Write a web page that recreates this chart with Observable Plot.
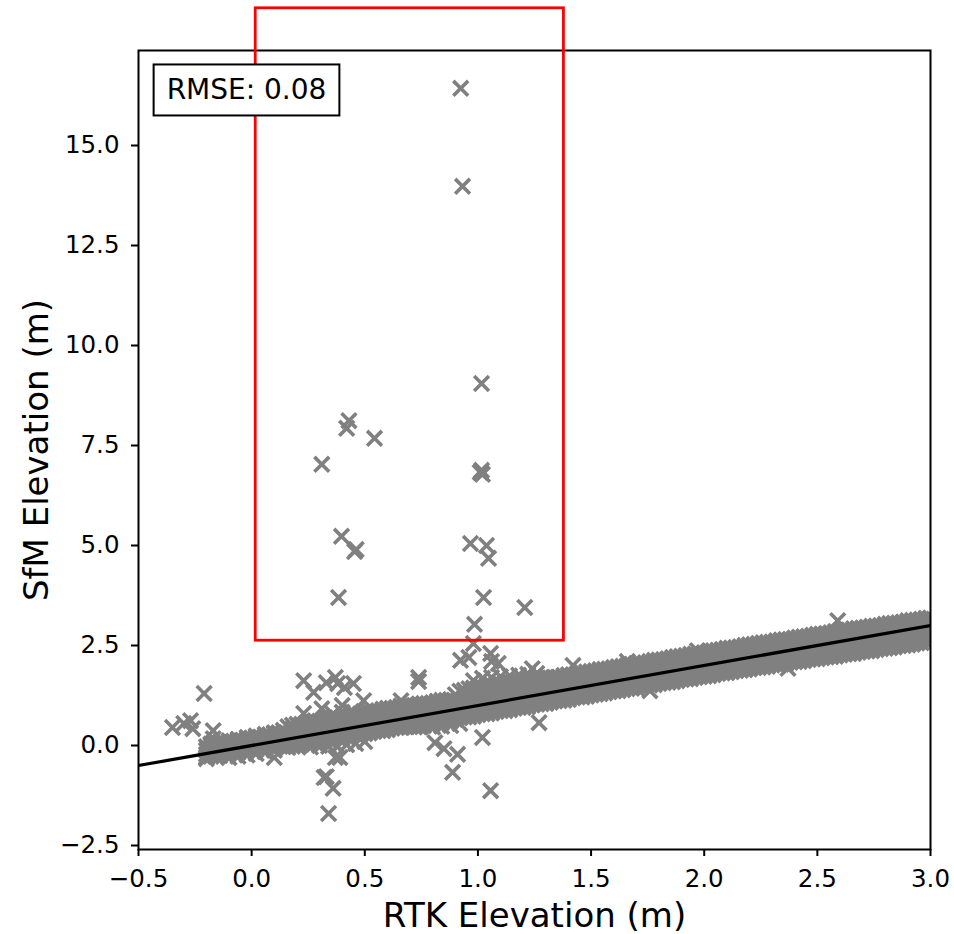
<!DOCTYPE html>
<html><head><meta charset="utf-8">
<script src="https://cdn.jsdelivr.net/npm/d3@7"></script>
<script src="https://cdn.jsdelivr.net/npm/@observablehq/plot@0.6"></script>
<style>body{margin:0;background:#fff} svg{display:block}</style>
</head><body><div id="chart"></div>
<script>
// ---- Data ----
const xLabel = "RTK Elevation (m)";
const yLabel = "SfM Elevation (m)";
const rmseText = "RMSE: 0.08";
const xTicks = [-0.5, 0, 0.5, 1, 1.5, 2, 2.5, 3];
const yTicks = [-2.5, 0, 2.5, 5, 7.5, 10, 12.5, 15];
const xDomain = [-0.5, 3.0];
const yDomain = [-2.6, 17.375];

// dense band of matched points, set A (RTK elevation columns, four SfM rows each)
const bandX = [-0.20,-0.16,-0.12,-0.08,-0.04,0.00,0.04,0.08,0.12,0.16,0.20,0.24,0.28,0.32,0.36,0.40,0.44,0.48,0.52,0.56,0.60,0.64,0.68,0.72,0.76,0.80,0.84,0.88,0.92,0.96,1.00,1.04,1.08,1.12,1.16,1.20,1.24,1.28,1.32,1.36,1.40,1.44,1.48,1.52,1.56,1.60,1.64,1.68,1.72,1.76,1.80,1.84,1.88,1.92,1.96,2.00,2.04,2.08,2.12,2.16,2.20,2.24,2.28,2.32,2.36,2.40,2.44,2.48,2.52,2.56,2.60,2.64,2.68,2.72,2.76,2.80,2.84,2.88,2.92,2.96,3.00];
const bandTop = [-0.03,0.03,0.05,0.11,0.13,0.19,0.21,0.27,0.32,0.47,0.53,0.55,0.62,0.63,0.69,0.71,0.77,0.79,0.85,0.87,0.93,0.95,1.01,1.00,1.05,1.07,1.13,1.15,1.36,1.42,1.44,1.50,1.52,1.58,1.60,1.66,1.68,1.70,1.69,1.71,1.77,1.79,1.84,1.87,1.91,1.95,1.98,2.03,2.06,2.10,2.14,2.17,2.22,2.25,2.29,2.32,2.37,2.40,2.44,2.47,2.52,2.55,2.58,2.62,2.65,2.69,2.72,2.76,2.79,2.82,2.86,2.89,2.93,2.96,2.99,3.03,3.06,3.09,3.13,3.16,3.19];
const bandMid1 = [-0.12,-0.09,-0.03,0.01,0.05,0.07,0.13,0.15,0.19,0.30,0.36,0.38,0.42,0.48,0.50,0.56,0.58,0.64,0.66,0.72,0.74,0.80,0.82,0.83,0.85,0.91,0.93,0.99,1.13,1.15,1.21,1.23,1.29,1.31,1.37,1.39,1.45,1.46,1.44,1.49,1.51,1.57,1.59,1.64,1.67,1.72,1.75,1.80,1.83,1.87,1.91,1.95,1.98,2.03,2.06,2.10,2.13,2.18,2.21,2.25,2.28,2.32,2.36,2.39,2.43,2.46,2.50,2.53,2.57,2.60,2.64,2.67,2.70,2.74,2.77,2.80,2.84,2.87,2.90,2.94,2.97];
const bandMid2 = [-0.22,-0.17,-0.15,-0.09,-0.07,-0.02,0.01,0.07,0.09,0.14,0.16,0.22,0.24,0.30,0.32,0.37,0.42,0.44,0.50,0.52,0.58,0.60,0.66,0.63,0.69,0.71,0.77,0.79,0.90,0.95,0.97,1.03,1.05,1.11,1.13,1.19,1.21,1.25,1.22,1.25,1.31,1.33,1.38,1.41,1.46,1.49,1.54,1.57,1.61,1.65,1.69,1.72,1.77,1.80,1.84,1.88,1.92,1.95,1.99,2.03,2.07,2.10,2.14,2.17,2.21,2.25,2.28,2.32,2.35,2.39,2.42,2.46,2.49,2.53,2.56,2.60,2.63,2.67,2.70,2.73,2.77];
const bandLow = [-0.29,-0.27,-0.21,-0.19,-0.13,-0.11,-0.07,-0.03,0.01,-0.05,-0.01,0.05,0.07,0.11,0.17,0.19,0.24,0.28,0.31,0.37,0.39,0.45,0.47,0.46,0.50,0.54,0.58,0.62,0.69,0.71,0.77,0.79,0.85,0.87,0.93,0.95,1.01,1.04,1.08,1.12,1.15,1.21,1.23,1.28,1.31,1.36,1.39,1.43,1.47,1.51,1.55,1.58,1.62,1.66,1.70,1.73,1.77,1.81,1.84,1.88,1.91,1.95,1.98,2.02,2.05,2.09,2.12,2.16,2.19,2.22,2.26,2.29,2.33,2.36,2.40,2.43,2.46,2.50,2.53,2.57,2.60];

// dense band, set B (staggered columns, seven SfM rows each)
const bandXB = [-0.18,-0.14,-0.10,-0.06,-0.02,0.02,0.06,0.10,0.14,0.18,0.22,0.26,0.30,0.34,0.38,0.42,0.46,0.50,0.54,0.58,0.62,0.66,0.70,0.74,0.78,0.82,0.86,0.90,0.94,0.98,1.02,1.06,1.10,1.14,1.18,1.22,1.26,1.30,1.34,1.38,1.42,1.46,1.50,1.54,1.58,1.62,1.66,1.70,1.74,1.78,1.82,1.86,1.90,1.94,1.98,2.02,2.06,2.10,2.14,2.18,2.22,2.26,2.30,2.34,2.38,2.42,2.46,2.50,2.54,2.58,2.62,2.66,2.70,2.74,2.78,2.82,2.86,2.90,2.94,2.98];
const bandBTop = [0.01,0.05,0.07,0.13,0.15,0.21,0.23,0.30,0.38,0.51,0.53,0.59,0.61,0.67,0.69,0.75,0.77,0.83,0.85,0.91,0.93,0.99,1.00,1.04,1.05,1.11,1.13,1.27,1.38,1.44,1.46,1.52,1.54,1.60,1.62,1.68,1.68,1.71,1.70,1.75,1.77,1.82,1.85,1.90,1.92,1.97,2.00,2.05,2.07,2.13,2.15,2.20,2.23,2.28,2.30,2.35,2.38,2.43,2.45,2.50,2.53,2.57,2.59,2.64,2.66,2.71,2.73,2.78,2.80,2.85,2.87,2.92,2.94,2.98,3.00,3.05,3.07,3.12,3.14,3.18];
const bandB1 = [-0.06,-0.02,0.03,0.08,0.11,0.15,0.19,0.24,0.30,0.41,0.46,0.49,0.53,0.58,0.61,0.66,0.69,0.74,0.77,0.82,0.85,0.90,0.92,0.94,0.96,1.01,1.04,1.11,1.26,1.31,1.34,1.39,1.42,1.47,1.50,1.55,1.58,1.59,1.58,1.62,1.65,1.69,1.72,1.77,1.80,1.85,1.87,1.92,1.95,2.00,2.03,2.08,2.10,2.15,2.18,2.23,2.26,2.30,2.33,2.38,2.41,2.45,2.48,2.53,2.55,2.60,2.63,2.67,2.70,2.74,2.77,2.81,2.84,2.88,2.91,2.95,2.98,3.02,3.04,3.09];
const bandBMid1 = [-0.10,-0.07,-0.01,0.04,0.05,0.11,0.13,0.18,0.24,0.34,0.36,0.41,0.44,0.50,0.52,0.58,0.60,0.66,0.68,0.74,0.76,0.82,0.82,0.85,0.87,0.93,0.95,1.07,1.13,1.19,1.21,1.27,1.29,1.35,1.37,1.43,1.45,1.46,1.46,1.51,1.53,1.59,1.61,1.66,1.69,1.74,1.77,1.82,1.84,1.90,1.92,1.97,2.00,2.05,2.07,2.12,2.15,2.20,2.22,2.27,2.29,2.35,2.37,2.42,2.44,2.49,2.51,2.56,2.58,2.63,2.65,2.69,2.71,2.76,2.78,2.83,2.85,2.89,2.91,2.96];
const bandB2 = [-0.15,-0.11,-0.08,-0.03,0.00,0.04,0.08,0.12,0.16,0.23,0.27,0.31,0.34,0.40,0.43,0.47,0.51,0.55,0.59,0.63,0.67,0.71,0.74,0.75,0.78,0.82,0.86,0.90,1.03,1.06,1.10,1.14,1.18,1.22,1.26,1.30,1.34,1.35,1.35,1.38,1.42,1.46,1.50,1.53,1.57,1.61,1.65,1.68,1.72,1.76,1.80,1.84,1.88,1.91,1.95,1.99,2.03,2.07,2.10,2.14,2.18,2.21,2.25,2.29,2.33,2.36,2.40,2.44,2.47,2.51,2.55,2.58,2.62,2.65,2.69,2.72,2.76,2.79,2.83,2.86];
const bandBMid2 = [-0.20,-0.15,-0.13,-0.07,-0.05,0.00,0.03,0.09,0.11,0.16,0.18,0.24,0.26,0.32,0.34,0.40,0.42,0.48,0.50,0.56,0.58,0.64,0.64,0.67,0.69,0.75,0.77,0.85,0.92,0.97,0.99,1.05,1.07,1.13,1.15,1.21,1.22,1.24,1.23,1.29,1.31,1.36,1.39,1.44,1.47,1.52,1.55,1.60,1.62,1.68,1.70,1.75,1.78,1.83,1.85,1.91,1.93,1.98,2.00,2.06,2.08,2.13,2.15,2.20,2.22,2.27,2.29,2.34,2.36,2.41,2.43,2.48,2.50,2.55,2.57,2.62,2.64,2.69,2.71,2.76];
const bandB3 = [-0.24,-0.20,-0.17,-0.13,-0.09,-0.05,-0.02,0.03,0.04,0.06,0.08,0.14,0.16,0.22,0.24,0.29,0.34,0.37,0.41,0.45,0.49,0.53,0.57,0.56,0.60,0.63,0.68,0.71,0.80,0.84,0.88,0.92,0.96,1.00,1.04,1.08,1.12,1.15,1.17,1.20,1.24,1.28,1.31,1.35,1.39,1.43,1.47,1.51,1.55,1.58,1.62,1.66,1.70,1.74,1.78,1.81,1.85,1.89,1.93,1.96,2.00,2.04,2.07,2.11,2.15,2.18,2.22,2.26,2.29,2.33,2.36,2.40,2.43,2.47,2.50,2.54,2.57,2.61,2.64,2.68];
const bandBLow = [-0.27,-0.25,-0.19,-0.17,-0.11,-0.10,-0.04,-0.02,-0.03,-0.02,0.03,0.05,0.10,0.13,0.19,0.21,0.27,0.29,0.35,0.37,0.43,0.45,0.47,0.47,0.53,0.55,0.61,0.65,0.71,0.73,0.79,0.81,0.87,0.89,0.95,0.97,1.03,1.05,1.11,1.13,1.19,1.21,1.26,1.29,1.34,1.37,1.42,1.44,1.50,1.52,1.57,1.59,1.65,1.67,1.72,1.74,1.80,1.82,1.87,1.89,1.94,1.96,2.01,2.03,2.08,2.10,2.15,2.17,2.21,2.23,2.28,2.30,2.35,2.37,2.42,2.44,2.49,2.51,2.56,2.58];

// extra points on the band edges where it widens
const edgeX = [-0.18,-0.14,-0.10,-0.06,-0.02,0.02,0.06,0.10,-0.10,-0.06,-0.02,0.02,0.06,0.10,0.26,0.30,0.34,0.38,0.42,0.46,0.50,0.36,0.40,0.44,0.80,0.84,0.88,0.92,0.98,1.02,1.06,1.10,1.14,1.18,1.22,1.26,0.66,0.40,0.31,0.10];
const edgeY = [0.04,0.08,0.12,0.16,0.20,0.24,0.28,0.32,-0.30,-0.27,-0.24,-0.20,-0.16,-0.12,-0.04,0.00,-0.02,-0.03,0.02,0.05,0.10,0.78,0.83,0.85,0.46,0.48,0.50,0.55,1.62,1.68,1.70,1.72,1.74,1.76,1.78,1.80,1.12,1.00,0.92,-0.30];

// scattered / outlying points
const outlierX = [0.924,0.932,1.016,0.310,0.430,0.420,0.543,1.016,1.020,1.010,0.397,0.455,0.462,0.967,1.038,1.047,0.384,1.025,1.207,0.985,0.980,0.923,0.960,1.056,1.060,0.738,0.738,1.420,1.240,1.090,1.270,1.020,0.810,0.850,0.910,0.888,1.056,-0.210,-0.350,-0.300,-0.270,-0.260,-0.170,-0.170,-0.200,0.230,0.274,0.330,0.370,0.380,0.410,0.450,0.495,0.230,0.320,0.330,0.360,0.340,0.370,0.390,2.590,1.660,1.970,1.760,2.370];
const outlierY = [16.43,13.98,9.05,7.03,8.12,7.93,7.68,6.88,6.78,6.83,5.23,4.85,4.90,5.05,5.00,4.68,3.70,3.70,3.45,3.03,2.55,2.13,2.20,2.30,2.10,1.70,1.60,2.00,1.92,2.05,0.57,0.20,0.07,-0.08,-0.22,-0.67,-1.13,1.30,0.45,0.55,0.62,0.42,0.37,0.17,-0.33,1.62,1.33,1.57,1.70,1.55,1.45,1.55,1.12,0.80,-0.80,-0.78,-1.07,-1.70,-0.30,-0.30,3.12,2.10,2.37,1.37,1.93];

// 1:1 reference line and highlighted region
const refLineX = [-0.5, 3.0];
const refLineY = [-0.5, 3.0];
const highlightX = [0.018, 1.38];
const highlightY = [2.62, 18.43];

// ---- Build tables ----
const points = [];
bandX.forEach((x, i) => {
  for (const row of [bandTop, bandMid1, bandMid2, bandLow]) points.push({x, y: row[i]});
});
bandXB.forEach((x, i) => {
  for (const row of [bandBTop, bandB1, bandBMid1, bandB2, bandBMid2, bandB3, bandBLow]) points.push({x, y: row[i]});
});
edgeX.forEach((x, i) => points.push({x, y: edgeY[i]}));
outlierX.forEach((x, i) => points.push({x, y: outlierY[i]}));
const refLine = refLineX.map((x, i) => ({x, y: refLineY[i]}));
const highlight = [{x1: highlightX[0], x2: highlightX[1], y1: highlightY[0], y2: highlightY[1]}];
const fmt = d3.format(".1f");

const chart = Plot.plot({
  width: 954, height: 934,
  marginLeft: 138, marginRight: 24, marginTop: 50, marginBottom: 85,
  style: {fontFamily: "'DejaVu Sans', sans-serif", color: "black", background: "white", overflow: "visible"},
  x: {domain: xDomain},
  y: {domain: yDomain},
  marks: [
    Plot.dot(points, {x: "x", y: "y", symbol: "times", r: 6.8, stroke: "#808080", strokeWidth: 3.6, clip: true}),
    Plot.line(refLine, {x: "x", y: "y", stroke: "black", strokeWidth: 3.3, clip: true}),
    Plot.frame({stroke: "black", strokeWidth: 2}),
    Plot.axisX({ticks: xTicks, tickFormat: fmt, tickSize: 7, tickPadding: 13, fontSize: 24.5, strokeWidth: 2, label: null}),
    Plot.axisY({ticks: yTicks, tickFormat: fmt, tickSize: 7, tickPadding: 12, fontSize: 24.5, strokeWidth: 2, label: null}),
    Plot.text([xLabel], {text: d => d, frameAnchor: "bottom", dy: 67, fontSize: 34, textAnchor: "middle", lineAnchor: "middle"}),
    Plot.text([yLabel], {text: d => d, frameAnchor: "left", dx: -101, rotate: -90, fontSize: 34, textAnchor: "middle", lineAnchor: "middle"}),
    Plot.rect(highlight, {x1: "x1", x2: "x2", y1: "y1", y2: "y2", fill: "none", stroke: "red", strokeWidth: 2.8}),
    Plot.text([rmseText], {text: d => d, frameAnchor: "top-left", dx: 108, dy: 40, textAnchor: "middle", lineAnchor: "middle", fontSize: 28})
  ]
});
document.getElementById("chart").append(chart);

// box around the RMSE annotation
const t = Array.from(chart.querySelectorAll("text")).find(el => el.textContent === rmseText);
if (t) {
  const b = t.getBBox();
  const padX = 13, padY = 9;
  const r = document.createElementNS("http://www.w3.org/2000/svg", "rect");
  r.setAttribute("x", b.x - padX);
  r.setAttribute("y", b.y - padY);
  r.setAttribute("width", b.width + 2 * padX);
  r.setAttribute("height", b.height + 2 * padY);
  r.setAttribute("fill", "white");
  r.setAttribute("stroke", "black");
  r.setAttribute("stroke-width", 2);
  if (t.getAttribute("transform")) r.setAttribute("transform", t.getAttribute("transform"));
  t.parentNode.insertBefore(r, t);
}
</script></body></html>
